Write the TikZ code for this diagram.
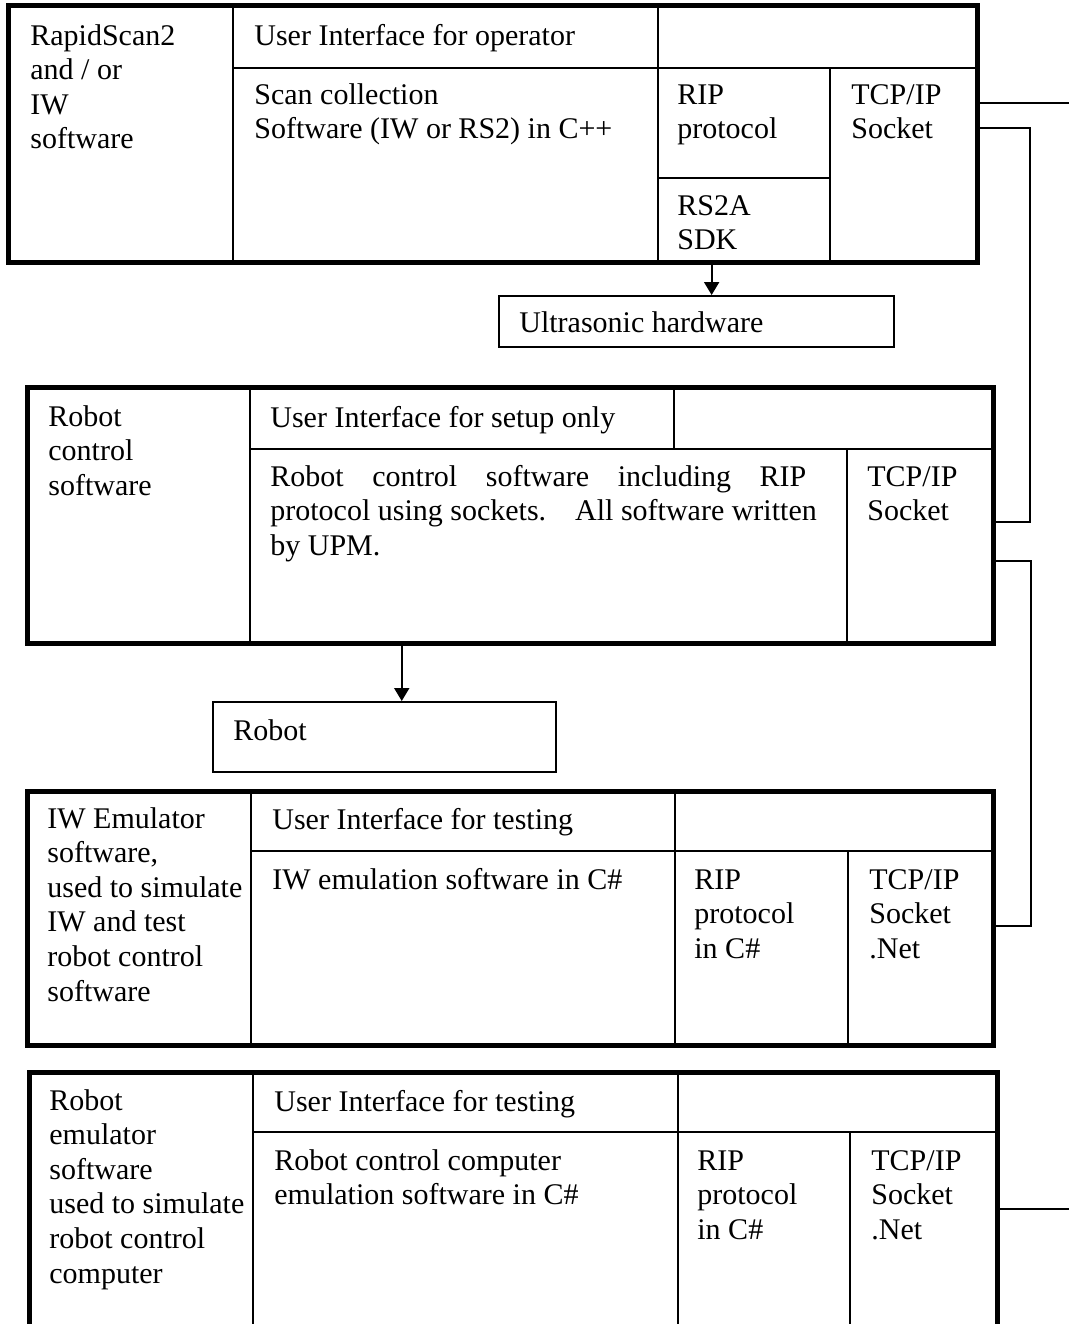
\documentclass[tikz,border=0pt]{standalone}
\usepackage{fontspec}
\setmainfont{Liberation Serif}
\usetikzlibrary{
arrows.meta,
calc,
fit,
positioning
}

\begin{document}
\begin{tikzpicture}[
x=0.5pt, y=-0.5pt,
every node/.style={font=\fontsize{15pt}{17.3pt}\selectfont},
cell/.style={draw, line width=1pt, inner sep=0pt},
boxframe/.style={draw, line width=2.5pt, inner sep=0pt},
txt/.style={anchor=base west, align=flush left, inner sep=0pt, text width=#1},
txt/.default=100pt,
link/.style={line width=1pt},
arrowline/.style={line width=1pt, -{Triangle[width=7.5pt,length=6.5pt]}}
]

\useasboundingbox (0,0) rectangle (1069,1324);
\clip (0,0) rectangle (1069,1324);

\node[cell, fit={(8,5) (233,262)}] (rsName) {};
\node[cell, fit={(233,5) (658,68)}] (rsUi) {};
\node[cell, fit={(658,5) (977,68)}] (rsUiEnd) {};
\node[cell, fit={(233,68) (658,262)}] (rsScan) {};
\node[cell, fit={(658,68) (830,178)}] (rsRip) {};
\node[cell, fit={(658,178) (830,262)}] (rsSdk) {};
\node[cell, fit={(830,68) (977,262)}] (rsTcp) {};
\node[boxframe, fit={(8,5) (977,262)}] (rsBox) {};

\node[txt=100pt] (rsNameText) at (30,45) {RapidScan2\\and / or\\IW\\software};
\node[txt=200pt] (rsUiText) at (254,45) {User Interface for operator};
\node[txt=200pt] (rsScanText) at (254,104) {Scan collection\\Software (IW or RS2) in C++};
\node[txt=74pt] (rsRipText) at (677,104) {RIP\\protocol};
\node[txt=74pt] (rsSdkText) at (677,215) {RS2A\\SDK};
\node[txt=61pt] (rsTcpText) at (851,104) {TCP/IP\\Socket};

\node[cell, fit={(499,296) (894,347)}] (ultra) {};
\node[txt=185pt] (ultraText) at (519,332) {Ultrasonic hardware};

\node[cell, fit={(27,387) (250,643)}] (rcName) {};
\node[cell, fit={(250,387) (674,449)}] (rcUi) {};
\node[cell, fit={(674,387) (993,449)}] (rcUiEnd) {};
\node[cell, fit={(250,449) (847,643)}] (rcMain) {};
\node[cell, fit={(847,449) (993,643)}] (rcTcp) {};
\node[boxframe, fit={(27,387) (993,643)}] (rcBox) {};

\node[txt=99pt] (rcNameText) at (48,426) {Robot\\control\\software};
\node[txt=200pt] (rcUiText) at (270,427) {User Interface for setup only};
\node[txt=285pt] (rcMainText) at (270,486) {\makebox[268pt][s]{Robot control software including RIP}\\protocol using sockets.\hspace{14.5pt}All software written\\by UPM.};
\node[txt=61pt] (rcTcpText) at (867,486) {TCP/IP\\Socket};

\node[cell, fit={(213,702) (556,772)}] (robot) {};
\node[txt=150pt] (robotText) at (233,740) {Robot};

\node[cell, fit={(27,791) (251,1045)}] (iwName) {};
\node[cell, fit={(251,791) (675,851)}] (iwUi) {};
\node[cell, fit={(675,791) (993,851)}] (iwUiEnd) {};
\node[cell, fit={(251,851) (675,1045)}] (iwMain) {};
\node[cell, fit={(675,851) (848,1045)}] (iwRip) {};
\node[cell, fit={(848,851) (993,1045)}] (iwTcp) {};
\node[boxframe, fit={(27,791) (993,1045)}] (iwBox) {};

\node[txt=101pt] (iwNameText) at (47,828) {IW Emulator\\software,\\used to simulate\\IW and test\\robot control\\software};
\node[txt=200pt] (iwUiText) at (272,829) {User Interface for testing};
\node[txt=200pt] (iwMainText) at (272,889) {IW emulation software in C\#};
\node[txt=75pt] (iwRipText) at (694,889) {RIP\\protocol\\in C\#};
\node[txt=61pt] (iwTcpText) at (869,889) {TCP/IP\\Socket\\.Net};

\node[cell, fit={(29,1072) (253,1345)}] (reName) {};
\node[cell, fit={(253,1072) (678,1132)}] (reUi) {};
\node[cell, fit={(678,1072) (997,1132)}] (reUiEnd) {};
\node[cell, fit={(253,1132) (678,1345)}] (reMain) {};
\node[cell, fit={(678,1132) (850,1345)}] (reRip) {};
\node[cell, fit={(850,1132) (997,1345)}] (reTcp) {};
\node[boxframe, fit={(29,1072) (997,1345)}] (reBox) {};

\node[txt=101pt] (reNameText) at (49,1110) {Robot\\emulator\\software\\used to simulate\\robot control\\computer};
\node[txt=200pt] (reUiText) at (274,1111) {User Interface for testing};
\node[txt=200pt] (reMainText) at (274,1170) {Robot control computer\\emulation software in C\#};
\node[txt=75pt] (reRipText) at (697,1170) {RIP\\protocol\\in C\#};
\node[txt=61pt] (reTcpText) at (871,1170) {TCP/IP\\Socket\\.Net};

\coordinate (sdkOut) at ($(rsSdk.south west)!0.314!(rsSdk.south east)$);
\draw[arrowline] (sdkOut) -- (sdkOut |- ultra.north);
\coordinate (rcOut) at ($(rcMain.south west)!0.255!(rcMain.south east)$);
\draw[arrowline] (rcOut) -- (rcOut |- robot.north);

\coordinate (topEnd) at (1069,103);
\coordinate (busA) at (1030,522);
\coordinate (busB) at (1031,926);
\coordinate (bottomEnd) at (1069,1209);
\draw[link] (rsTcp.east |- topEnd) -- (topEnd);
\draw[link] ($(rsTcp.north east)+(0,61)$) -| (busA) -- (busA -| rcTcp.east);
\draw[link] ($(rcTcp.north east)+(0,113)$) -| (busB) -- (busB -| iwTcp.east);
\draw[link] (reTcp.east |- bottomEnd) -- (bottomEnd);

\end{tikzpicture}
\end{document}
